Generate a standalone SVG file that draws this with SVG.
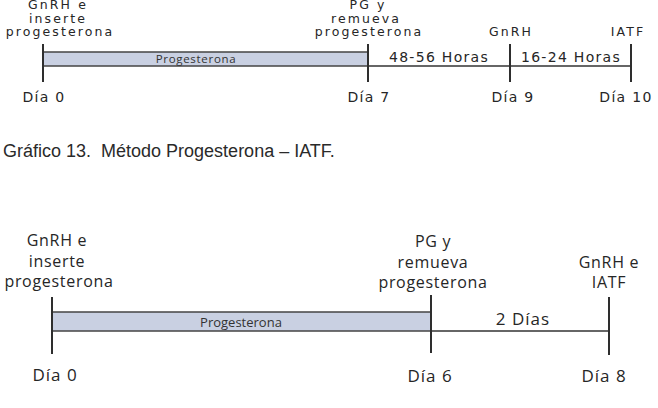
<svg xmlns="http://www.w3.org/2000/svg" width="658" height="408" viewBox="0 0 658 408">
<style>
.ln{stroke:#2e2e2e;stroke-width:2;fill:none}
.bl{stroke:#333;stroke-width:1.5}
.bar{fill:#c9d0e2;stroke:#444;stroke-width:1.5}
.t1{font-family:"DejaVu Sans",Verdana,sans-serif;font-size:12.5px;letter-spacing:2.1px;fill:#262626;text-anchor:middle}
.t1b{font-family:"DejaVu Sans",Verdana,sans-serif;font-size:14px;letter-spacing:1.3px;fill:#262626;text-anchor:middle}
.p1{font-family:"Open Sans",sans-serif;font-size:11.5px;letter-spacing:0.7px;fill:#333;text-anchor:middle}
.t2{font-family:"Open Sans",sans-serif;font-size:16px;letter-spacing:0.7px;fill:#262626;text-anchor:middle}
.t2b{font-family:"Open Sans",sans-serif;font-size:17px;letter-spacing:1px;fill:#262626;text-anchor:middle}
.p2{font-family:"Open Sans",sans-serif;font-size:13px;fill:#333;text-anchor:middle}
.cap{font-family:"Liberation Sans",Arial,sans-serif;font-size:18px;fill:#2a2a2a}
</style>
<rect width="658" height="408" fill="#fff"/>
<g id="top-diagram">
  <g id="connectors-top">
    <rect class="bar" x="43" y="52" width="325" height="14"/>
    <line class="bl" x1="368" y1="66" x2="631" y2="66"/>
  </g>
  <g id="t-day0">
    <line class="ln" x1="43" y1="44" x2="43" y2="82"/>
    <text class="t1" x="58" y="9">GnRH e</text>
    <text class="t1" x="58" y="23">inserte</text>
    <text class="t1" x="60" y="36">progesterona</text>
    <text class="t1b" x="44" y="102">Día 0</text>
  </g>
  <g id="t-day7">
    <line class="ln" x1="368" y1="44" x2="368" y2="82"/>
    <text class="t1" x="368" y="9">PG y</text>
    <text class="t1" x="366" y="23">remueva</text>
    <text class="t1" x="369" y="36">progesterona</text>
    <text class="t1b" x="369" y="102">Día 7</text>
  </g>
  <g id="t-day9">
    <line class="ln" x1="510" y1="44" x2="510" y2="82"/>
    <text class="t1" x="511" y="36">GnRH</text>
    <text class="t1b" x="513" y="102">Día 9</text>
  </g>
  <g id="t-day10">
    <line class="ln" x1="631" y1="44" x2="631" y2="82"/>
    <text class="t1" x="628" y="36">IATF</text>
    <text class="t1b" x="626" y="102">Día 10</text>
  </g>
  <text class="p1" x="196" y="63">Progesterona</text>
  <text class="t1b" x="439" y="62">48-56 Horas</text>
  <text class="t1b" x="571" y="62">16-24 Horas</text>
</g>
<text class="cap" x="3" y="157">Gráfico 13.&#160; Método Progesterona – IATF.</text>
<g id="bottom-diagram">
  <g id="connectors-bottom">
    <rect class="bar" x="52" y="312" width="379" height="19"/>
    <line class="bl" x1="431" y1="331" x2="609" y2="331"/>
  </g>
  <g id="b-day0">
    <line class="ln" x1="52" y1="297" x2="52" y2="354"/>
    <text class="t2" x="57" y="246">GnRH e</text>
    <text class="t2" x="57" y="267">inserte</text>
    <text class="t2" x="59" y="287">progesterona</text>
    <text class="t2b" x="55" y="381">Día 0</text>
  </g>
  <g id="b-day6">
    <line class="ln" x1="431" y1="295" x2="431" y2="353"/>
    <text class="t2" x="433" y="247">PG y</text>
    <text class="t2" x="433" y="268">remueva</text>
    <text class="t2" x="433" y="288">progesterona</text>
    <text class="t2b" x="430" y="382">Día 6</text>
  </g>
  <g id="b-day8">
    <line class="ln" x1="609" y1="297" x2="609" y2="355"/>
    <text class="t2" x="609" y="268">GnRH e</text>
    <text class="t2" x="609" y="288">IATF</text>
    <text class="t2b" x="604" y="382">Día 8</text>
  </g>
  <text class="p2" x="241" y="327">Progesterona</text>
  <text class="t2b" x="523" y="325">2 Días</text>
</g>
</svg>
